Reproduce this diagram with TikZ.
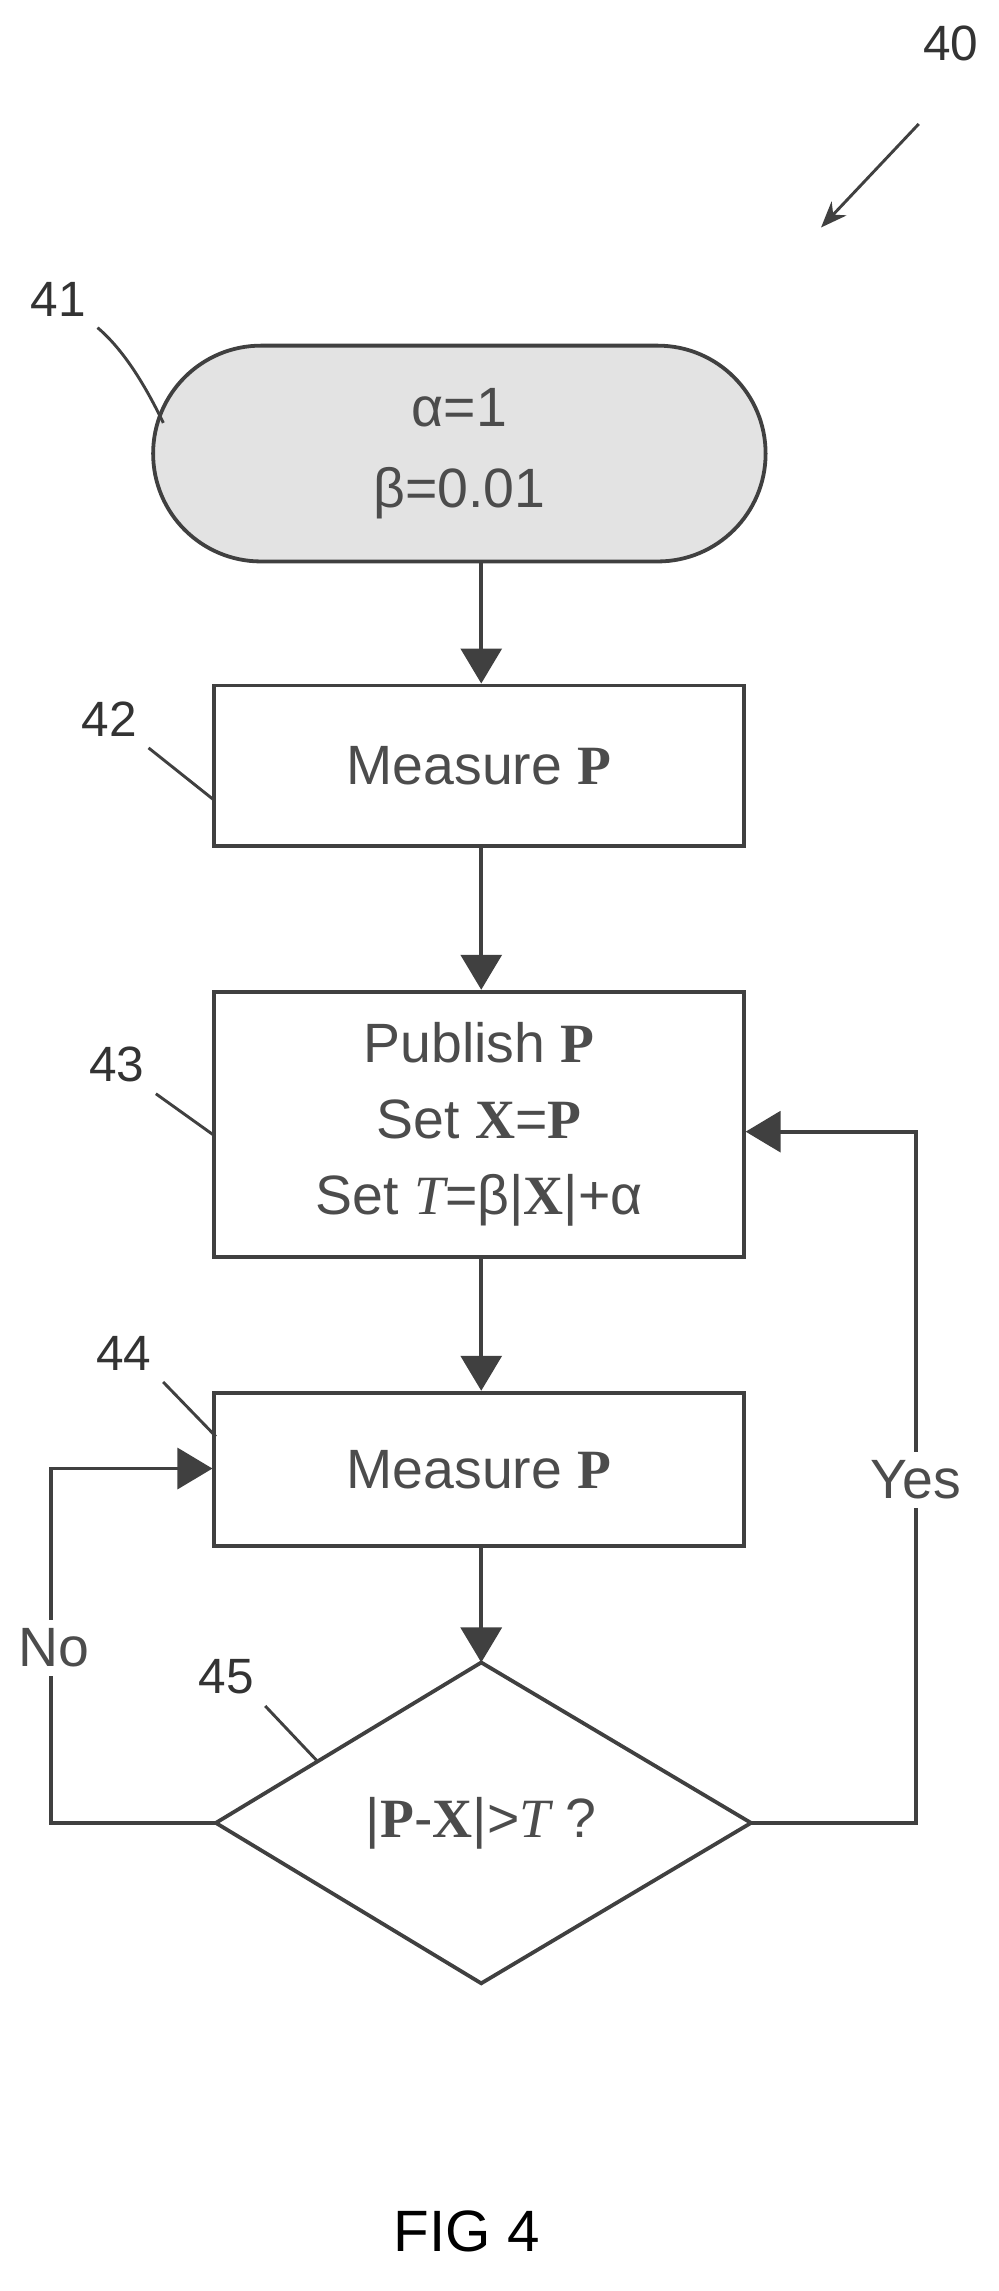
\documentclass[tikz,border=0pt]{standalone}
\usepackage{fontspec}
\setmainfont{Liberation Sans}
\newfontfamily\serifp{Liberation Serif}
\usetikzlibrary{arrows.meta}
\newcommand{\bP}{{\serifp\bfseries P}}
\newcommand{\bX}{{\serifp\bfseries X}}
\begin{document}
\begin{tikzpicture}[x=0.5pt,y=-0.5pt,
  line width=1.3pt, draw=black!75,
  box/.style={draw=black!75,line width=1.3pt,rectangle,font=\fontsize{19}{26}\selectfont,text=black!70,align=center,inner sep=0},
  arr/.style={draw=black!75,line width=1.3pt,-{Triangle[length=12pt,width=14pt]}},
  lead/.style={draw=black!75,line width=1pt},
  num/.style={font=\fontsize{17}{20}\selectfont,text=black!80},
]
\useasboundingbox (0,0) rectangle (685,1571);
\node[box,minimum width=420*0.5pt,minimum height=148*0.5pt,rounded corners=37pt,fill=gray!22] (n41) at (315,311) {α=1\\[2pt]β=0.01};
\node[box,minimum width=363*0.5pt,minimum height=110*0.5pt] (n42) at (328.5,525) {Measure \bP};
\node[box,minimum width=363*0.5pt,minimum height=182*0.5pt] (n43) at (328.5,771) {Publish \bP\\Set \bX=\bP\\Set {\serifp\itshape T}=β|\bX|+α};
\node[box,minimum width=363*0.5pt,minimum height=105*0.5pt] (n44) at (328.5,1007.5) {Measure \bP};
\coordinate (dt) at (330,1140);
\coordinate (db) at (330,1360);
\coordinate (dl) at (148,1250);
\coordinate (dr) at (515,1250);
\draw (dt) -- (dr) -- (db) -- (dl) -- cycle;
\node[box,draw=none] (n45) at (330,1250) {|\bP-\bX|>{\serifp\itshape T} ?};
\draw[arr] (n41.south -| 330,0) -- (n42.north -| 330,0);
\draw[arr] (n42.south -| 330,0) -- (n43.north -| 330,0);
\draw[arr] (n43.south -| 330,0) -- (n44.north -| 330,0);
\draw[arr] (n44.south -| 330,0) -- (dt);
\coordinate (yr) at (628,1250); \coordinate (yt) at (628,776);
\draw[arr] (dr) -- (yr) -- (yt) -- (n43.east |- yt);
\coordinate (nl) at (35,1250); \coordinate (nt) at (35,1007);
\draw[arr] (dl) -- (nl) -- (nt) -- (n44.west |- nt);
\node[box,draw=none,fill=white,inner sep=3pt] (yes) at (628,1015) {Yes};
\node[box,draw=none,fill=white,inner sep=3pt] (no) at (37,1130) {No};
\node[num] (l40) at (652,30) {40};
\coordinate (a40s) at (630,85); \coordinate (a40e) at (563,156);
\draw[lead,-{Stealth[length=9pt,width=7pt]}] (a40s) -- (a40e);
\node[num] (l41) at (40,205) {41};
\coordinate (c41) at (112,290);
\draw[lead] (l41.south east) .. controls (85,240) and (100,265) .. (c41);
\node[num] (l42) at (75,493) {42};
\coordinate (c42) at (146,548);
\draw[lead] (l42.south east) -- (c42);
\node[num] (l43) at (80,730) {43};
\coordinate (c43) at (146,778);
\draw[lead] (l43.south east) -- (c43);
\node[num] (l44) at (85,928) {44};
\coordinate (c44) at (148,985);
\draw[lead] (l44.south east) -- (c44);
\node[num] (l45) at (155,1150) {45};
\coordinate (c45) at (217,1207);
\draw[lead] (l45.south east) -- (c45);
\node[font=\fontsize{20}{24}\selectfont] (fig) at (320,1530) {FIG 4};
\end{tikzpicture}
\end{document}
